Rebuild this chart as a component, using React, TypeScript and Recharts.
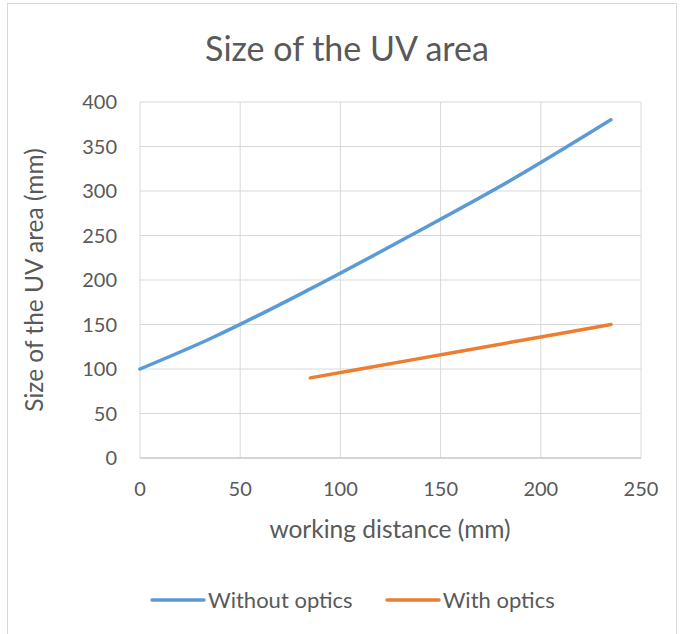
import React from "react";
import { LineChart, Line, XAxis, YAxis, CartesianGrid } from "recharts";

const withoutX = [0, 35, 85, 135, 185, 235];
const withoutY = [100, 134, 190, 250, 312, 380];
const withX = [85, 135, 185, 235];
const withY = [90, 110, 130, 150];
const xTicks = [0, 50, 100, 150, 200, 250];
const yTicks = [0, 50, 100, 150, 200, 250, 300, 350, 400];

const seriesNames = ["Without optics", "With optics"];
const colors = ["#5b9bd5", "#ed7d31"];

const withoutData = withoutX.map((x, i) => ({ x, y: withoutY[i] }));
const withData = withX.map((x, i) => ({ x, y: withY[i] }));

const FONT = "Lato, 'Open Sans', sans-serif";
const TXT = "#595959";

const LegendBox = () => (
  <div style={{ position: "absolute", left: 150, top: 586, display: "flex", alignItems: "center", fontFamily: FONT, fontSize: 22, color: TXT, whiteSpace: "nowrap" }}>
    {seriesNames.map((n, i) => (
      <div key={n} style={{ display: "flex", alignItems: "center", marginLeft: i ? 32 : 0 }}>
        <svg width={56} height={6} style={{ marginRight: 2 }}>
          <line x1={2} y1={3} x2={54} y2={3} stroke={colors[i]} strokeWidth={3.5} strokeLinecap="round" />
        </svg>
        <span>{n}</span>
      </div>
    ))}
  </div>
);

export default function App() {
  return (
    <div style={{ position: "absolute", left: 0, top: 0, width: 683, height: 634, background: "#fff", overflow: "hidden", fontFamily: FONT }}>
      <div style={{ position: "absolute", left: 7, top: 3, width: 668, height: 660, border: "1px solid #d9d9d9" }} />
      <div style={{ position: "absolute", left: 0, top: 0 }}>
        <LineChart width={683} height={634} margin={{ top: 102, right: 42, bottom: 146, left: 80 }}>
          <CartesianGrid stroke="#d9d9d9" strokeWidth={1} />
          <XAxis
            type="number"
            dataKey="x"
            domain={[0, 250]}
            ticks={xTicks}
            height={30}
            tickSize={0}
            tickMargin={24}
            axisLine={{ stroke: "#bfbfbf" }}
            tick={{ fill: TXT, fontSize: 20, fontFamily: FONT }}
          />
          <YAxis
            type="number"
            domain={[0, 400]}
            ticks={yTicks}
            width={60}
            tickSize={0}
            tickMargin={23}
            axisLine={false}
            tick={{ fill: TXT, fontSize: 20, fontFamily: FONT }}
          />
          <Line data={withoutData} dataKey="y" name={seriesNames[0]} type="monotone" stroke={colors[0]} strokeWidth={3.5} strokeLinecap="round" dot={false} isAnimationActive={false} />
          <Line data={withData} dataKey="y" name={seriesNames[1]} type="monotone" stroke={colors[1]} strokeWidth={3.5} strokeLinecap="round" dot={false} isAnimationActive={false} />
          <text x={347} y={47} textAnchor="middle" dominantBaseline="central" fill={TXT} fontSize={34} fontFamily={FONT}>Size of the UV area</text>
          <text x={390} y={528} textAnchor="middle" dominantBaseline="central" fill={TXT} fontSize={24.5} fontFamily={FONT}>working distance (mm)</text>
          <text x={33} y={280} textAnchor="middle" dominantBaseline="central" fill={TXT} fontSize={24.5} fontFamily={FONT} transform="rotate(-90 33 280)">Size of the UV area (mm)</text>
        </LineChart>
      </div>
      <LegendBox />
    </div>
  );
}
